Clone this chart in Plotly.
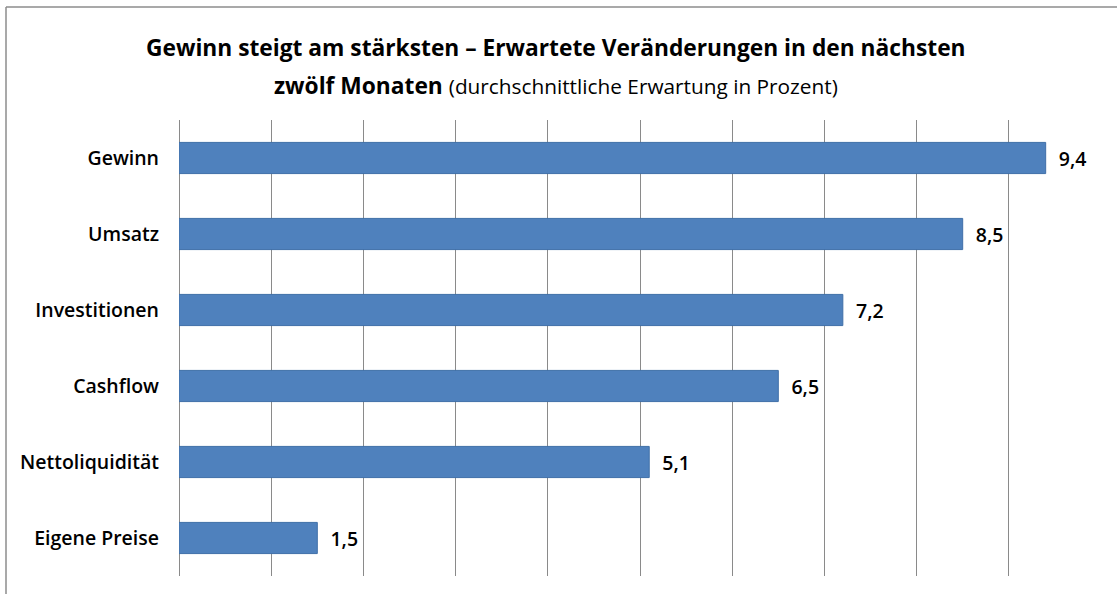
import plotly.graph_objects as go

categories = ["Gewinn", "Umsatz", "Investitionen", "Cashflow", "Nettoliquidität", "Eigene Preise"]
values = [9.4, 8.5, 7.2, 6.5, 5.1, 1.5]
labels = [f"{v:.1f}".replace(".", ",") for v in values]

FONT = "Open Sans"
L, R, T, B = 179, 16, 120, 18
W, H = 1117, 594
pw, ph = W - L - R, H - T - B

fig = go.Figure(go.Bar(
    x=values, y=categories, orientation="h",
    marker=dict(color="#4F81BD", line=dict(color="#3F6FA8", width=1)),
    width=0.41,
    text=["  " + t for t in labels], textposition="outside",
    textfont=dict(family=FONT, size=19.5, color="#000000", weight=600),
    cliponaxis=False,
))

fig.update_layout(
    width=W, height=H,
    margin=dict(l=L, r=R, t=T, b=B),
    paper_bgcolor="white", plot_bgcolor="white",
    showlegend=False,
    font=dict(family=FONT, color="#000000"),
    xaxis=dict(range=[0, 10], dtick=1, showticklabels=False, showgrid=True,
               gridcolor="#8A8A8A", gridwidth=1, zeroline=True, zerolinecolor="#8A8A8A",
               zerolinewidth=1, fixedrange=True),
    yaxis=dict(autorange="reversed", showgrid=False, zeroline=False,
               tickfont=dict(family=FONT, size=19.5, color="#000000", weight=600),
               ticklabelstandoff=19, showline=False),
    bargap=0.59,
)

def px_to_paper_x(px):
    return (px - L) / pw

def px_to_paper_y(py):
    return 1 - (py - T) / ph

fig.add_annotation(
    x=px_to_paper_x(556), y=px_to_paper_y(48), xref="paper", yref="paper",
    text="<b>Gewinn steigt am stärksten – Erwartete Veränderungen in den nächsten</b>",
    showarrow=False, xanchor="center", yanchor="middle",
    font=dict(family=FONT, size=22.75, color="#000000"),
)
fig.add_annotation(
    x=px_to_paper_x(556), y=px_to_paper_y(85), xref="paper", yref="paper",
    text="<b>zwölf Monaten</b> <span style='font-size:20.8px'>(durchschnittliche Erwartung in Prozent)</span>",
    showarrow=False, xanchor="center", yanchor="middle",
    font=dict(family=FONT, size=22.75, color="#000000"),
)

# outer chart frame (top and left edges visible)
fig.add_shape(type="line", xref="paper", yref="paper",
              x0=px_to_paper_x(6), x1=px_to_paper_x(1117), y0=px_to_paper_y(7), y1=px_to_paper_y(7),
              line=dict(color="#8C8C8C", width=1.5))
fig.add_shape(type="line", xref="paper", yref="paper",
              x0=px_to_paper_x(6), x1=px_to_paper_x(6), y0=px_to_paper_y(7), y1=px_to_paper_y(594),
              line=dict(color="#8C8C8C", width=1.5))

fig.write_html("out.html", config={"displayModeBar": False},
               post_script="document.body.style.margin='0px';")
